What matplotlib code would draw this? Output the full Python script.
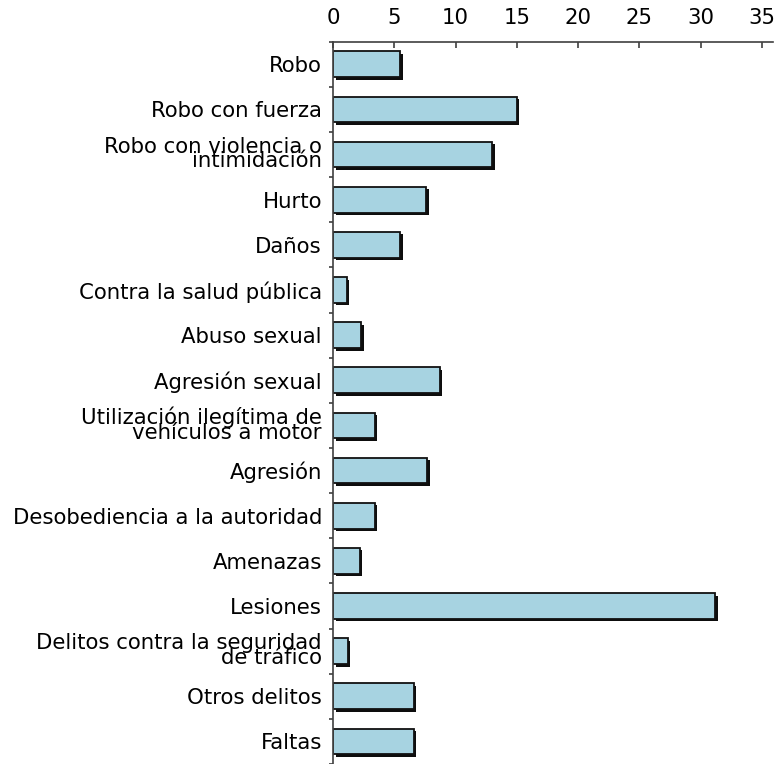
import matplotlib
matplotlib.use("Agg")
import matplotlib.pyplot as plt
import matplotlib.patheffects as pe
import numpy as np

categories = [
    "Robo",
    "Robo con fuerza",
    "Robo con violencia o\nintimidación",
    "Hurto",
    "Daños",
    "Contra la salud pública",
    "Abuso sexual",
    "Agresión sexual",
    "Utilización ilegítima de\nvehículos a motor",
    "Agresión",
    "Desobediencia a la autoridad",
    "Amenazas",
    "Lesiones",
    "Delitos contra la seguridad\nde tráfico",
    "Otros delitos",
    "Faltas",
]
values = [5.5, 15.0, 13.0, 7.6, 5.5, 1.1, 2.3, 8.7, 3.4, 7.7, 3.4, 2.2, 31.2, 1.2, 6.6, 6.6]
xticks = [0, 5, 10, 15, 20, 25, 30, 35]

plt.rcParams['font.family'] = ['DejaVu Sans']
fig = plt.figure(figsize=(7.77, 7.64), dpi=100)
ax = fig.add_axes([0.4286, 0.0, 0.5663, 0.9454])

y = np.arange(len(categories))
bars = ax.barh(y, values, height=0.57, color="#A7D3E1", edgecolor="#111111", linewidth=1.3)
for b in bars:
    b.set_path_effects([pe.SimplePatchShadow(offset=(1.8, -1.8), shadow_rgbFace="black", alpha=0.95),
                        pe.Normal()])

ax.set_ylim(len(categories) - 0.5, -0.5)
ax.set_xlim(0, 35.9)

ax.xaxis.tick_top()
ax.set_xticks(xticks)
ax.set_xticklabels([str(t) for t in xticks], fontsize=15.3)
ax.tick_params(axis='x', direction='in', length=4, width=1.2, color="#404040", pad=10)

ax.set_yticks(y)
ax.set_yticklabels(categories, fontsize=15.3, linespacing=0.68)
ax.tick_params(axis='y', which='major', length=0, pad=8)
ax.set_yticks(np.arange(len(categories) + 1) - 0.5, minor=True)
ax.tick_params(axis='y', which='minor', direction='out', length=3, width=1.2, color="#404040")

for s in ['right', 'bottom']:
    ax.spines[s].set_visible(False)
for s in ['left', 'top']:
    ax.spines[s].set_color("#404040")
    ax.spines[s].set_linewidth(1.2)

fig.savefig("out.png", dpi=100)
